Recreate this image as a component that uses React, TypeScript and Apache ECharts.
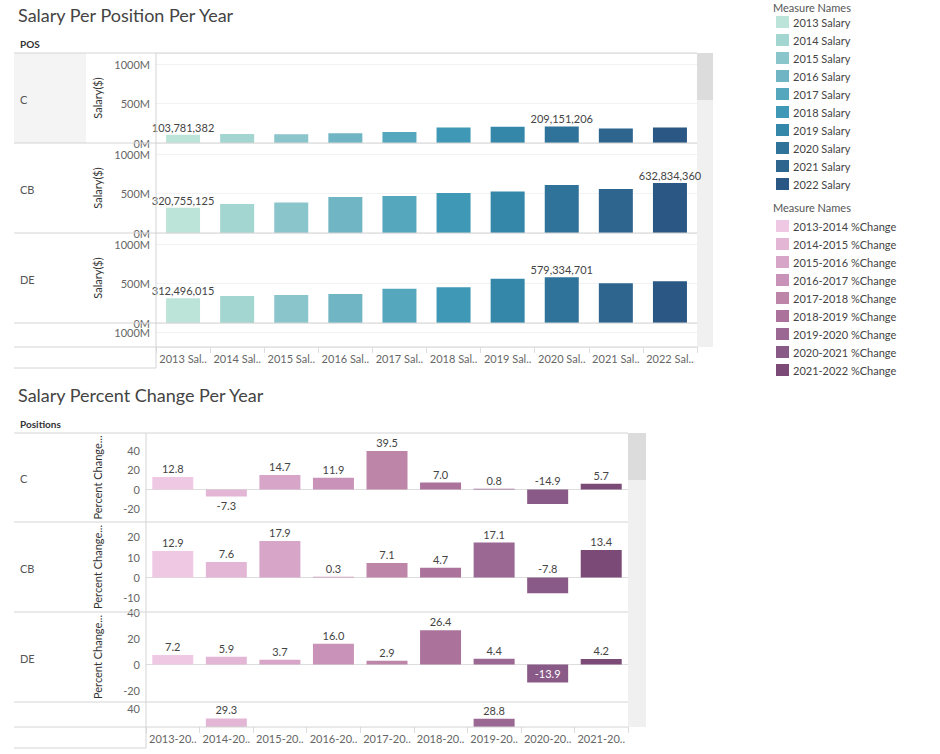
import { useEffect, useRef } from 'react';
import * as echarts from 'echarts';

const salaryYears = ['2013 Salary', '2014 Salary', '2015 Salary', '2016 Salary', '2017 Salary', '2018 Salary', '2019 Salary', '2020 Salary', '2021 Salary', '2022 Salary'];
const changeYears = ['2013-2014 %Change', '2014-2015 %Change', '2015-2016 %Change', '2016-2017 %Change', '2017-2018 %Change', '2018-2019 %Change', '2019-2020 %Change', '2020-2021 %Change', '2021-2022 %Change'];
const positions = ['C', 'CB', 'DE', ''];

const salaryC = [103781382, 115e6, 110e6, 125e6, 140e6, 195e6, 207e6, 209151206, 183e6, 195e6];
const salaryCB = [320755125, 367e6, 387e6, 456e6, 468e6, 506e6, 527e6, 608e6, 557e6, 632834360];
const salaryDE = [312496015, 342e6, 354e6, 367e6, 435e6, 452e6, 562e6, 579334701, 502e6, 528e6];
const salaryRows = [salaryC, salaryCB, salaryDE, []];
const salaryLabelIdx = [[0, 7], [0, 9], [0, 7], []];

const changeC = [12.8, -7.3, 14.7, 11.9, 39.5, 7.0, 0.8, -14.9, 5.7];
const changeCB = [12.9, 7.6, 17.9, 0.3, 7.1, 4.7, 17.1, -7.8, 13.4];
const changeDE = [7.2, 5.9, 3.7, 16.0, 2.9, 26.4, 4.4, -13.9, 4.2];
const changeNext = [null, 29.3, null, null, null, null, 28.8, null, null];
const changeRows = [changeC, changeCB, changeDE, changeNext];

const salaryColors = ['#bde4d9', '#a3d5d1', '#8ac5cb', '#6fb5c3', '#55a7bd', '#3f98b5', '#3587aa', '#2f739a', '#2d658f', '#2b5784'];
const changeColors = ['#efc8e3', '#e3b6d5', '#d6a5c8', '#c992b8', '#bd86a9', '#ab739c', '#9a6893', '#895a87', '#7b4a76'];

const FONT = 'Lato, "Noto Sans", sans-serif';

export default function App() {
  const ref = useRef<HTMLDivElement>(null);

  useEffect(() => {
    document.body.style.margin = '0';
    if (!ref.current) return;
    const chart = echarts.init(ref.current, undefined, { renderer: 'svg' });

    const topRows = [[53, 143], [143, 233], [233, 323], [323, 347]];
    const botRows = [[433, 522], [522, 612], [612, 702], [702, 727]];
    const topY = [
      { min: 0, max: 1140e6, interval: 500e6 },
      { min: 0, max: 1140e6, interval: 500e6 },
      { min: 0, max: 1140e6, interval: 500e6 },
      { min: 750e6, max: 1150e6, interval: 250e6 },
    ];
    const botY = [
      { min: -33.5, max: 58, ticks: [-20, 0, 20, 40] },
      { min: -17, max: 27.2, ticks: [-10, 0, 10, 20] },
      { min: -29, max: 40.5, ticks: [-20, 0, 20, 40] },
      { min: 20, max: 47, ticks: [40] },
    ];

    const grid: any[] = [];
    const xAxis: any[] = [];
    const yAxis: any[] = [];
    const series: any[] = [];
    const axisText = { color: '#666', fontSize: 11, fontFamily: FONT };

    topRows.forEach(([t, b], i) => {
      const last = i === topRows.length - 1;
      grid.push({ left: 156, width: 541, top: t, height: b - t });
      xAxis.push({
        type: 'category', gridIndex: grid.length - 1, data: salaryYears,
        axisLine: { show: false },
        axisTick: { show: last, length: 6, lineStyle: { color: '#ddd' } },
        axisLabel: { show: last, interval: 0, ...axisText, margin: 6, formatter: (v: string) => v.slice(0, 8) + '..' },
      });
      yAxis.push({
        type: 'value', gridIndex: grid.length - 1, ...topY[i],
        name: last ? '' : 'Salary($)', nameLocation: 'middle', nameGap: 50,
        nameTextStyle: { color: '#333', fontSize: 11, fontFamily: FONT },
        axisLabel: { ...axisText, margin: 6, showMinLabel: !last, showMaxLabel: false, formatter: (v: number) => v / 1e6 + 'M' },
        splitLine: { lineStyle: { color: '#f2f2f2' } },
      });
      series.push({
        type: 'bar', xAxisIndex: grid.length - 1, yAxisIndex: grid.length - 1, barWidth: 34,
        data: salaryRows[i].map((v, j) => ({
          value: v,
          itemStyle: { color: salaryColors[j] },
          label: {
            show: salaryLabelIdx[i].includes(j), position: 'top', distance: 2,
            color: '#444', fontSize: 11, fontFamily: FONT,
            formatter: (p: any) => p.value.toLocaleString('en-US'),
          },
        })),
      });
    });

    botRows.forEach(([t, b], i) => {
      const last = i === botRows.length - 1;
      grid.push({ left: 146, width: 482, top: t, height: b - t });
      xAxis.push({
        type: 'category', gridIndex: grid.length - 1, data: changeYears,
        axisLine: { show: !last, onZero: true, lineStyle: { color: '#ddd' } },
        axisTick: { show: last, length: 6, lineStyle: { color: '#ddd' } },
        axisLabel: { show: last, interval: 0, ...axisText, margin: 6, formatter: (v: string) => v.slice(0, 7) + '..' },
      });
      yAxis.push({
        type: 'value', gridIndex: grid.length - 1, min: botY[i].min, max: botY[i].max,
        name: last ? '' : 'Percent Change...', nameLocation: 'middle', nameGap: 43,
        nameTextStyle: { color: '#333', fontSize: 11, fontFamily: FONT },
        axisLabel: { ...axisText, margin: 6, customValues: botY[i].ticks },
        axisTick: { show: false },
        splitLine: { show: false },
      });
      series.push({
        type: 'bar', xAxisIndex: grid.length - 1, yAxisIndex: grid.length - 1, barWidth: 41,
        data: changeRows[i].map((v, j) => {
          if (v === null) return '-';
          let position = 'top';
          let color = '#444';
          if (i === 0 && j === 1) position = 'bottom';
          if (i === 2 && j === 7) { position = 'inside'; color = '#fff'; }
          return {
            value: v,
            itemStyle: { color: changeColors[j] },
            label: { show: true, position, distance: 3, color, fontSize: 11, fontFamily: FONT, formatter: (p: any) => p.value.toFixed(1) },
          };
        }),
      });
    });

    const graphic: any[] = [];
    const line = (x1: number, y1: number, x2: number, y2: number) =>
      graphic.push({ type: 'line', shape: { x1, y1, x2, y2 }, style: { stroke: '#d4d4d4', lineWidth: 1 }, silent: true, z: 10 });
    const text = (x: number, y: number, t: string, style: any = {}) =>
      graphic.push({ type: 'text', x, y, style: { text: t, fill: '#333', fontSize: 11, fontFamily: FONT, textVerticalAlign: 'middle', ...style } });

    // panel frames
    graphic.push({ type: 'rect', shape: { x: 14, y: 53, width: 72, height: 90 }, style: { fill: '#f4f4f4' }, z: -1 });
    graphic.push({ type: 'rect', shape: { x: 697, y: 53, width: 16, height: 294 }, style: { fill: '#f0f0f0' } });
    graphic.push({ type: 'rect', shape: { x: 697, y: 53, width: 16, height: 47 }, style: { fill: '#dcdcdc' } });
    graphic.push({ type: 'rect', shape: { x: 628, y: 433, width: 18, height: 294 }, style: { fill: '#f0f0f0' } });
    graphic.push({ type: 'rect', shape: { x: 628, y: 433, width: 18, height: 47 }, style: { fill: '#dcdcdc' } });
    [53, 143, 233, 323, 347].forEach((y) => line(14, y, 697, y));
    line(156, 53, 156, 368);
    line(14, 368, 156, 368);
    [433, 522, 612, 702, 727].forEach((y) => line(14, y, 628, y));
    line(146, 433, 146, 748);
    line(14, 748, 146, 748);

    text(18, 15, 'Salary Per Position Per Year', { fontSize: 18, fill: '#444' });
    text(18, 395, 'Salary Percent Change Per Year', { fontSize: 18, fill: '#444' });
    text(20, 44, 'POS', { fontWeight: 'bold', fontSize: 10 });
    text(20, 424, 'Positions', { fontWeight: 'bold', fontSize: 10 });
    positions.forEach((p, i) => {
      if (!p) return;
      text(20, (topRows[i][0] + topRows[i][1]) / 2 + 1, p, { fill: '#555' });
      text(20, (botRows[i][0] + botRows[i][1]) / 2 + 1, p, { fill: '#555' });
    });

    // legends
    text(773, 7, 'Measure Names', { fill: '#555' });
    salaryYears.forEach((n, i) => {
      graphic.push({ type: 'rect', shape: { x: 776, y: 16 + i * 18, width: 13, height: 12 }, style: { fill: salaryColors[i] } });
      text(793, 22 + i * 18, n, { fill: '#444' });
    });
    text(773, 207, 'Measure Names', { fill: '#555' });
    changeYears.forEach((n, i) => {
      graphic.push({ type: 'rect', shape: { x: 776, y: 220 + i * 18, width: 13, height: 12 }, style: { fill: changeColors[i] } });
      text(793, 226 + i * 18, n, { fill: '#444' });
    });

    chart.setOption({ animation: false, grid, xAxis, yAxis, series, graphic, textStyle: { fontFamily: FONT } });
    return () => chart.dispose();
  }, []);

  return <div ref={ref} style={{ width: 940, height: 754, background: '#fff' }} />;
}
